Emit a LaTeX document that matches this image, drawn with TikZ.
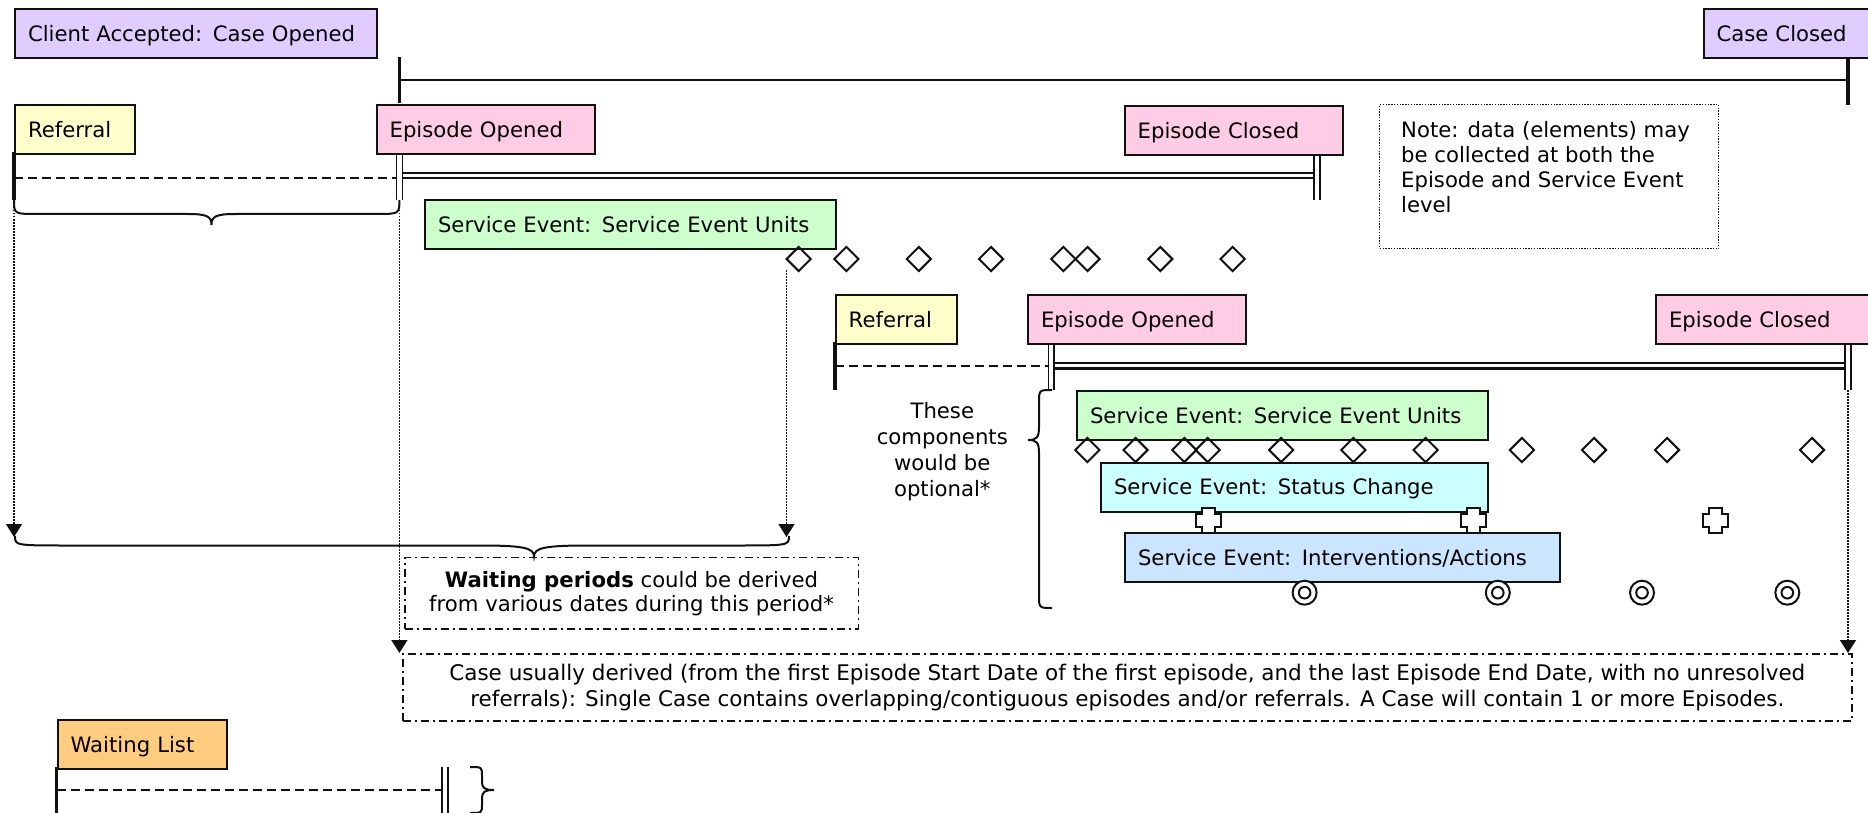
\documentclass[tikz,border=0pt]{standalone}
\usepackage{fontspec}
\setmainfont{DejaVu Sans}
\usetikzlibrary{arrows.meta,shapes.geometric,calc}
\definecolor{lav}{HTML}{E1CCFF}
\definecolor{pinkc}{HTML}{FFCCE5}
\definecolor{yellc}{HTML}{FFFFCC}
\definecolor{greenc}{HTML}{CCFFCC}
\definecolor{cyanc}{HTML}{CCFFFF}
\definecolor{bluec}{HTML}{CCE5FF}
\definecolor{orangec}{HTML}{FFCC80}
\definecolor{ink}{HTML}{111111}
\newcommand\lblfont{\fontsize{21.2}{25}\selectfont}
% horizontal brace pointing down: xa, xb, yend, ymid, xtip, ytip, curl
\newcommand\mybracedn[7]{%
  \draw[brc] (#1,#3) .. controls (#1,#4) and (#1,#4) .. ({#1+#7},#4) -- ({#5-#7},#4)
    .. controls ({#5-0.2*#7},#4) and (#5,{#4+0.2*(#6-#4)}) .. (#5,#6)
    .. controls (#5,{#4+0.2*(#6-#4)}) and ({#5+0.2*#7},#4) .. ({#5+#7},#4) -- ({#2-#7},#4)
    .. controls (#2,#4) and (#2,#4) .. (#2,#3);}
% vertical brace: xend, ya, yb, xspine, xtip, ytip, curl
\newcommand\mybracevt[7]{%
  \draw[brc] (#1,#2) .. controls (#4,#2) and (#4,#2) .. (#4,{#2+#7}) -- (#4,{#6-#7})
    .. controls (#4,{#6-0.2*#7}) and ({#4+0.2*(#5-#4)},#6) .. (#5,#6)
    .. controls ({#4+0.2*(#5-#4)},#6) and (#4,{#6+0.2*#7}) .. (#4,{#6+#7}) -- (#4,{#3-#7})
    .. controls (#4,#3) and (#4,#3) .. (#1,#3);}
\begin{document}
\begin{tikzpicture}[x=1pt,y=-1pt,
  box/.style={draw=ink, line width=2pt, anchor=north west, inner xsep=13pt, inner ysep=0pt,
    minimum height=49pt, text height=15.5pt, text depth=0pt, align=left, font=\lblfont},
  thickbar/.style={draw=ink, line width=3.6pt},
  thinln/.style={draw=ink, line width=1.8pt},
  dashln/.style={draw=ink, line width=1.9pt, dash pattern=on 9pt off 5pt},
  dotln/.style={draw=ink, line width=1.5pt, dash pattern=on 1.5pt off 1.5pt},
  ddot/.style={draw=ink, line width=1.6pt, dash pattern=on 8pt off 4pt on 2pt off 4pt},
  brc/.style={draw=ink, line width=2pt},
  arr/.style={-{Triangle[length=13pt,width=16pt]}},
  dia/.style={diamond, draw=ink, line width=2pt, minimum width=25pt, minimum height=25pt, inner sep=0pt},
  crossmk/.pic={\draw[ink, line width=2pt, fill=white] (-6.5,-12.5) -- (6.5,-12.5) -- (6.5,-6.5) -- (12.5,-6.5) -- (12.5,6.5) -- (6.5,6.5) -- (6.5,12.5) -- (-6.5,12.5) -- (-6.5,6.5) -- (-12.5,6.5) -- (-12.5,-6.5) -- (-6.5,-6.5) -- cycle;},
  ringmk/.pic={\draw[ink, line width=2pt, fill=white] (0,0) circle[radius=12pt];
               \draw[ink, line width=2pt] (0,0) circle[radius=5.8pt];}
]
\useasboundingbox (0,0) rectangle (1868,813);
\fill[white] (0,0) rectangle (1868,813);
\clip (0,0) rectangle (1868,813);

% ---------- case line ----------
\draw[thickbar] (399.4,57) -- (399.4,103);
\draw[thinln] (399.4,80) -- (1848,80);
\draw[thickbar] (1848,57) -- (1848,105);

% ---------- referral 1 / episode 1 ----------
\draw[thickbar] (14,152) -- (14,200);
\draw[dashln] (14,178) -- (396.6,178);
\draw[ink, line width=1.6pt] (396.6,153) -- (396.6,200) (402.5,153) -- (402.5,200);
\draw[ink, line width=1.5pt] (402.5,173) -- (1314,173);
\draw[ink, line width=2.5pt] (402.5,178) -- (1314,178);
\draw[ink, line width=1.6pt] (1314,153) -- (1314,200) (1320,153) -- (1320,200);

% ---------- referral 2 / episode 2 ----------
\draw[thickbar] (834.7,342) -- (834.7,390);
\draw[dashln] (834.7,366) -- (1048.5,366);
\draw[ink, line width=1.6pt] (1048.5,343) -- (1048.5,390) (1054,343) -- (1054,390);
\draw[ink, line width=1.8pt] (1054,363.3) -- (1845,363.3);
\draw[ink, line width=2.3pt] (1054,368.5) -- (1845,368.5);
\draw[ink, line width=1.6pt] (1845,343) -- (1845,390) (1851,343) -- (1851,390);

% ---------- waiting list ----------
\draw[thickbar] (56.6,767) -- (56.6,813);
\draw[dashln] (56.6,790) -- (442,790);
\draw[ink, line width=1.6pt] (442,767) -- (442,813) (447.8,767) -- (447.8,813);
\mybracevt{470}{767}{813}{482}{494}{790}{9}

% ---------- dotted arrows ----------
\draw[dotln, arr] (14,201) -- (14,537);
\draw[dotln, arr] (399.4,201) -- (399.4,653);
\draw[dotln, arr] (786.5,270) -- (786.5,537);
\draw[dotln, arr] (1848,390) -- (1848,653);

% ---------- braces ----------
\mybracedn{14}{399.4}{200}{214}{211.5}{225}{24}
\mybracedn{15}{789}{536}{545.5}{534}{556.5}{55}
\mybracevt{1052}{390}{608}{1039}{1028}{440}{13}

% ---------- boxes ----------
\node[box, fill=lav, minimum width=362pt, text width=336pt] (client) at (14,8) {Client Accepted: Case Opened};
\node[box, fill=lav, minimum width=177.5pt, text width=151.5pt] (caseclosed) at (1702.5,8) {Case Closed};
\node[box, fill=yellc, minimum width=120.4pt, text width=94.4pt] (ref1) at (14,104) {Referral};
\node[box, fill=pinkc, minimum width=218.4pt, text width=192.4pt] (epo1) at (375.6,104) {Episode Opened};
\node[box, fill=pinkc, minimum width=217.8pt, text width=191.8pt] (epc1) at (1123.7,105) {Episode Closed};
\node[box, fill=greenc, minimum width=411pt, text width=385pt] (seu1) at (424,199) {Service Event: Service Event Units};
\node[box, fill=yellc, minimum width=121pt, text width=95pt] (ref2) at (834.7,294) {Referral};
\node[box, fill=pinkc, minimum width=218pt, text width=192pt] (epo2) at (1027,294) {Episode Opened};
\node[box, fill=pinkc, minimum width=225pt, text width=199pt] (epc2) at (1655,294) {Episode Closed};
\node[box, fill=greenc, minimum width=410.5pt, text width=384.5pt] (seu2) at (1076,390) {Service Event: Service Event Units};
\node[box, fill=cyanc, minimum width=386.5pt, text width=360.5pt] (status) at (1100,461.7) {Service Event: Status Change};
\node[box, fill=bluec, minimum width=434.6pt, text width=408.6pt] (interv) at (1124,532.3) {Service Event: Interventions/Actions};
\node[box, fill=orangec, minimum width=169.2pt, text width=143.2pt] (waitlist) at (56.6,719) {Waiting List};

% ---------- note (dotted) ----------
\node[draw=ink, line width=1.4pt, dash pattern=on 1.4pt off 1.4pt, anchor=north west,
      minimum width=339pt, minimum height=144pt, inner sep=0pt] (note) at (1379,104) {};
\node[anchor=north west, inner sep=0pt, align=left, font=\lblfont] (notetxt) at (1401,121)
  {Note: data (elements) may\\be collected at both the\\Episode and Service Event\\level};

% ---------- optional text ----------
\node[align=center, inner sep=0pt, font=\fontsize{21.2}{26}\selectfont] (opt) at (942.3,452)
  {These\\components\\would be\\optional*};

% ---------- waiting periods note ----------
\node[ddot, anchor=north west, minimum width=453.5pt, minimum height=71.3pt, inner sep=0pt,
      align=center, font=\fontsize{21.2}{24}\selectfont] (waitnote) at (404,556.7)
  {\textbf{Waiting periods} could be derived\\from various dates during this period*};

% ---------- case note ----------
\node[ddot, anchor=north west, minimum width=1449pt, minimum height=67pt, inner sep=0pt,
      align=center, font=\fontsize{21.5}{26}\selectfont] (casenote) at (402,653)
  {Case usually derived (from the first Episode Start Date of the first episode, and the last Episode End Date, with no unresolved\\referrals): Single Case contains overlapping/contiguous episodes and/or referrals. A Case will contain 1 or more Episodes.};

% ---------- diamonds ----------
\foreach \x [count=\i] in {798.7,846.4,918.8,991,1063.4,1087.5,1160.3,1232.6}
  \node[dia] (da\i) at (\x,259) {};
\foreach \x [count=\i] in {1087.4,1135.5,1184.3,1207.7,1281.2,1353.4,1425.6,1521.9,1594,1667,1812}
  \node[dia] (db\i) at (\x,450) {};

% ---------- crosses and rings ----------
\pic (cr1) at (1208.4,520.7) {crossmk};
\pic (cr2) at (1473.7,520.7) {crossmk};
\pic (cr3) at (1715.7,520.7) {crossmk};
\pic (rg1) at (1304.6,592.7) {ringmk};
\pic (rg2) at (1497.8,592.7) {ringmk};
\pic (rg3) at (1642,592.7) {ringmk};
\pic (rg4) at (1787.3,592.7) {ringmk};
\end{tikzpicture}
\end{document}
